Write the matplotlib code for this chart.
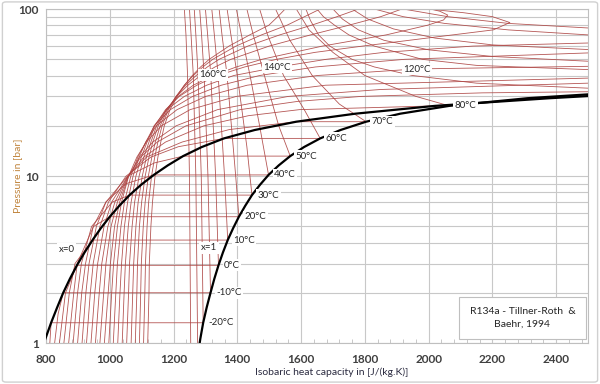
import matplotlib.pyplot as plt
from matplotlib.ticker import MultipleLocator, LogLocator, NullFormatter, FixedLocator
from matplotlib.patches import FancyBboxPatch

plt.rcParams['font.family'] = ['Lato', 'DejaVu Sans']

# saturation curves, 5 degC steps (p in bar, cp in J/(kg.K))
curve_T = [-30, -25, -20, -15, -10, -5, 0, 5, 10, 15, 20, 25, 30, 35, 40, 45,
           50, 55, 60, 65, 70, 75, 80, 85, 90]
curve_p = [0.844, 1.064, 1.327, 1.639, 2.006, 2.433, 2.928, 3.497, 4.146, 4.884, 5.717,
           6.653, 7.702, 8.870, 10.17, 11.60, 13.18, 14.92, 16.82, 18.89, 21.17, 23.64,
           26.33, 29.26, 32.44]
dew_cp = [781, 798, 816, 835, 854, 875, 897, 921, 946, 972, 1000, 1030, 1062, 1098, 1138,
          1182, 1230, 1288, 1358, 1455, 1585, 1770, 2020, 2380, 2800]
bub_cp = [1276, 1284, 1293, 1304, 1316, 1328, 1341, 1355, 1370, 1387, 1405, 1425, 1446,
          1471, 1498, 1530, 1566, 1609, 1660, 1724, 1804, 1911, 2065, 2310, 2681]

# isotherm saturation points, 10 degC steps
sat_T = [-40, -30, -20, -10, 0, 10, 20, 30, 40, 50, 60, 70, 80, 90]
sat_p = [0.512, 0.844, 1.327, 2.006, 2.928, 4.146, 5.717, 7.702, 10.17, 13.18, 16.82, 21.17, 26.33, 32.44]
sat_cp_vap = [749, 781, 816, 854, 897, 946, 1000, 1062, 1138, 1230, 1358, 1585, 2020, 2800]
sat_cp_liq = [1255, 1276, 1293, 1316, 1341, 1370, 1405, 1446, 1498, 1566, 1660, 1804, 2065, 2681]

# superheated vapour branch of each subcritical isotherm (up to saturation)
vap_p = [
    [], [], [1], [1, 1.5], [1, 2], [1, 2, 3], [1, 2, 3, 5], [1, 2, 3, 5, 7],
    [1, 2, 3, 5, 7, 9],
    [1, 2, 3, 5, 7, 10, 12],
    [1, 2, 3, 5, 7, 10, 13, 15],
    [1, 2, 3, 5, 7, 10, 13, 16, 19],
    [1, 2, 3, 5, 7, 10, 13, 16, 20, 23, 25],
    [1, 2, 3, 5, 7, 10, 13, 16, 20, 25, 28, 30, 31.5],
]
vap_cp = [
    [], [], [812], [827, 838], [842, 861], [856, 873, 891], [871, 887, 898, 949],
    [885, 899, 911, 943, 1008],
    [899, 912, 924, 948, 988, 1050],
    [913, 925, 935, 958, 988, 1056, 1140],
    [927, 939, 948, 969, 996, 1051, 1129, 1215],
    [941, 953, 962, 982, 1006, 1057, 1115, 1227, 1375],
    [955, 967, 975, 994, 1016, 1057, 1107, 1175, 1295, 1435, 1595],
    [969, 981, 988, 1004, 1024, 1058, 1097, 1149, 1239, 1409, 1589, 1789, 2169],
]

# compressed liquid branch of each subcritical isotherm (above saturation)
liq_p = [
    [10, 40, 70, 100], [10, 40, 70, 100], [10, 40, 70, 100], [10, 40, 70, 100],
    [10, 40, 70, 100], [10, 40, 70, 100], [10, 40, 70, 100], [15, 40, 70, 100],
    [20, 40, 70, 100], [20, 40, 70, 100], [25, 40, 70, 100], [27, 40, 65, 100],
    [30, 40, 55, 75, 100],
    [33.6, 36, 40, 45, 50, 60, 70, 85, 100],
]
liq_cp = [
    [1250, 1244, 1239, 1234], [1270, 1262, 1255, 1250], [1287, 1277, 1270, 1265],
    [1308, 1296, 1288, 1282], [1332, 1317, 1307, 1300], [1360, 1340, 1328, 1320],
    [1395, 1368, 1352, 1343], [1430, 1400, 1380, 1368], [1470, 1440, 1413, 1397],
    [1530, 1485, 1450, 1430], [1610, 1545, 1495, 1470], [1720, 1635, 1565, 1520],
    [1960, 1800, 1700, 1625, 1585],
    [2500, 2150, 1950, 1830, 1760, 1690, 1655, 1630, 1615],
]

# supercritical isotherms
sc_T = [100, 110, 120, 130, 140, 150, 160, 170, 180, 190, 200]
sc_p = [
    [1, 2, 3, 5, 7, 10, 13, 16, 20, 25, 30, 33, 36, 39, 41.5, 43.4, 46, 50, 60, 70, 80, 90, 100],
    [1, 2, 3, 5, 7, 10, 13, 16, 20, 25, 30, 35, 38.6, 41, 44, 47, 48.7, 52, 57, 65, 75, 87, 100],
    [1, 2, 3, 5, 7, 10, 13, 16, 20, 25, 30, 35, 40, 43.8, 45.4, 48, 51, 54, 57.2, 61, 67, 76, 87, 100],
    [1, 2, 3, 5, 7, 10, 13, 16, 20, 25, 30, 35, 40, 45, 50, 54.6, 58, 62, 66, 70, 75, 82, 90, 100],
    [1, 2, 3, 5, 7, 10, 13, 16, 20, 25, 30, 35, 40, 45, 50, 55, 60, 62.6, 66, 70, 73, 77, 82, 90, 100],
    [1, 2, 3, 5, 7, 10, 13, 16, 20, 25, 30, 35, 40, 45, 50, 55, 60, 68.5, 75, 83, 90, 95, 100],
    [1, 2, 3, 5, 7, 10, 13, 16, 20, 25, 30, 35, 40, 45, 50, 60, 70, 80, 86, 92, 97, 100],
    [1, 2, 3, 5, 7, 10, 13, 16, 20, 25, 30, 35, 40, 45, 50, 60, 70, 80, 90, 99, 100],
    [1, 2, 3, 5, 7, 10, 13, 16, 20, 25, 30, 35, 40, 45, 50, 60, 70, 80, 90, 100],
    [1, 2, 3, 5, 7, 10, 13, 16, 20, 25, 30, 35, 40, 45, 50, 60, 70, 80, 90, 100],
    [1, 2, 3, 5, 7, 10, 13, 16, 20, 25, 30, 35, 40, 45, 50, 60, 70, 80, 90, 100],
]
sc_cp = [
    [983, 995, 1002, 1015, 1031, 1059, 1093, 1135, 1208, 1338, 1560, 1850, 2500, 4500, 4000, 2500, 2150, 1980, 1830, 1750, 1705, 1670, 1650],
    [997, 1006, 1012, 1024, 1037, 1059, 1085, 1115, 1162, 1252, 1397, 1677, 2500, 3500, 4500, 3500, 2500, 2200, 2000, 1860, 1780, 1730, 1700],
    [1011, 1019, 1024, 1035, 1046, 1066, 1088, 1113, 1146, 1211, 1301, 1431, 1651, 1963, 2500, 3500, 4000, 3500, 2500, 2200, 2020, 1890, 1810, 1760],
    [1025, 1032, 1037, 1046, 1056, 1073, 1092, 1113, 1140, 1190, 1260, 1350, 1470, 1645, 1925, 2500, 3200, 3400, 3200, 2500, 2250, 2050, 1920, 1830],
    [1039, 1045, 1049, 1058, 1067, 1082, 1099, 1117, 1139, 1179, 1234, 1304, 1389, 1529, 1679, 1859, 2139, 2500, 3000, 3100, 3000, 2500, 2250, 2060, 1920],
    [1053, 1059, 1062, 1070, 1078, 1092, 1107, 1123, 1141, 1175, 1218, 1273, 1338, 1423, 1523, 1643, 1793, 2036, 2203, 2255, 2200, 2110, 2000],
    [1067, 1072, 1075, 1082, 1089, 1102, 1115, 1129, 1147, 1177, 1215, 1262, 1324, 1397, 1477, 1667, 1867, 1997, 2047, 2060, 2035, 2005],
    [1080, 1085, 1087, 1093, 1100, 1111, 1123, 1135, 1152, 1178, 1210, 1245, 1285, 1330, 1380, 1500, 1630, 1750, 1850, 1910, 1908],
    [1093, 1097, 1099, 1105, 1111, 1121, 1132, 1143, 1158, 1181, 1208, 1238, 1271, 1306, 1343, 1433, 1533, 1633, 1713, 1780],
    [1106, 1110, 1112, 1117, 1122, 1131, 1141, 1151, 1164, 1184, 1208, 1234, 1262, 1292, 1323, 1396, 1476, 1556, 1611, 1660],
    [1119, 1123, 1124, 1129, 1134, 1142, 1151, 1160, 1171, 1189, 1211, 1234, 1259, 1285, 1312, 1374, 1439, 1499, 1527, 1550],
]

# labelled isotherms in the supercritical region
iso_labels = ['160°C', '140°C', '120°C']
iso_label_cp = [1324, 1525, 1963]
iso_label_p = [40.4, 44.8, 43.7]

red = '#ad4442'
grid_col = '#c8c8c8'
txt_col = '#262626'

fig = plt.figure(figsize=(6, 3.84), dpi=100)
ax = fig.add_axes([46 / 600, 1 - 343.3 / 384, 542 / 600, 334.3 / 384])
ax.set_yscale('log')
ax.set_xlim(800, 2500)
ax.set_ylim(1, 100)

# subcritical isotherms: vapour -> two-phase (horizontal) -> liquid
for i in range(len(sat_T)):
    cps = vap_cp[i] + [sat_cp_vap[i], sat_cp_liq[i]] + liq_cp[i]
    ps = vap_p[i] + [sat_p[i], sat_p[i]] + liq_p[i]
    ax.plot(cps, ps, color=red, lw=0.6, alpha=0.9, zorder=2)

for i in range(len(sc_T)):
    ax.plot(sc_cp[i], sc_p[i], color=red, lw=0.6, alpha=0.9, zorder=2)

# saturation curves
ax.plot(dew_cp, curve_p, color='black', lw=1.6, zorder=3, solid_joinstyle='round')
ax.plot(bub_cp, curve_p, color='black', lw=1.6, zorder=3, solid_joinstyle='round')

lab_box = dict(boxstyle='square,pad=0.15', fc='white', ec='none')
for T, cp, p in zip(sat_T, sat_cp_liq, sat_p):
    if -20 <= T <= 80:
        ax.annotate(f'{T}°C', (cp, p), xytext=(4, 0), textcoords='offset points',
                    ha='left', va='center', fontsize=7, color=txt_col,
                    bbox=lab_box, zorder=4)

for s, cp, p in zip(iso_labels, iso_label_cp, iso_label_p):
    ax.text(cp, p, s, ha='center', va='center', fontsize=7, color=txt_col,
            bbox=lab_box, zorder=4)

ax.text(865, 3.66, 'x=0', ha='center', va='center', fontsize=7, color=txt_col,
        bbox=lab_box, zorder=4)
ax.text(1311, 3.74, 'x=1', ha='center', va='center', fontsize=7, color=txt_col,
        bbox=lab_box, zorder=4)

# source box
ax.add_patch(FancyBboxPatch((0.7626, 0.013), 0.233, 0.126, boxstyle='square,pad=0',
                            transform=ax.transAxes, fc='white', ec='#bfbfbf', lw=0.8, zorder=5))
ax.text(0.879, 0.076, 'R134a - Tillner-Roth  &\nBaehr, 1994', transform=ax.transAxes,
        ha='center', va='center', fontsize=7.5, color=txt_col, linespacing=1.5, zorder=6)

# axes, ticks and grid
ax.xaxis.set_major_locator(FixedLocator(range(800, 2401, 200)))
ax.xaxis.set_minor_locator(MultipleLocator(40))
ax.yaxis.set_major_locator(FixedLocator([1, 10, 100]))
ax.yaxis.set_major_formatter(plt.FuncFormatter(lambda v, _: f'{v:g}'))
ax.yaxis.set_minor_locator(LogLocator(base=10, subs=range(2, 10)))
ax.yaxis.set_minor_formatter(NullFormatter())

ax.grid(True, which='major', axis='x', color=grid_col, lw=0.8, zorder=0)
ax.grid(True, which='both', axis='y', color=grid_col, lw=0.8, zorder=0)
ax.set_axisbelow(True)

ax.tick_params(axis='x', which='major', length=0, pad=8, labelsize=8.5, labelcolor='#404040')
ax.tick_params(axis='x', which='minor', direction='in', length=3, color='#bfbfbf')
ax.tick_params(axis='y', which='both', length=0, pad=5, labelsize=8.5, labelcolor='#404040')
for lab in ax.get_xticklabels() + ax.get_yticklabels():
    lab.set_fontweight('bold')
for sp in ax.spines.values():
    sp.set_color('#bfbfbf')
    sp.set_linewidth(0.8)

fig.text(332 / 600, 1 - 372 / 384, 'Isobaric heat capacity in [J/(kg.K)]', ha='center', va='center',
         fontsize=7.5, color='#2b2b40')
fig.text(18 / 600, 1 - 176 / 384, 'Pressure in [bar]', ha='center', va='center', rotation=90,
         fontsize=7.5, color='#c0843c')

fig.patches.append(FancyBboxPatch((0.004, 0.005), 0.992, 0.99, boxstyle='round,pad=0,rounding_size=0.006',
                                  transform=fig.transFigure, fc='none', ec='#d0d0d0', lw=1))

fig.savefig('out.png', dpi=100)
